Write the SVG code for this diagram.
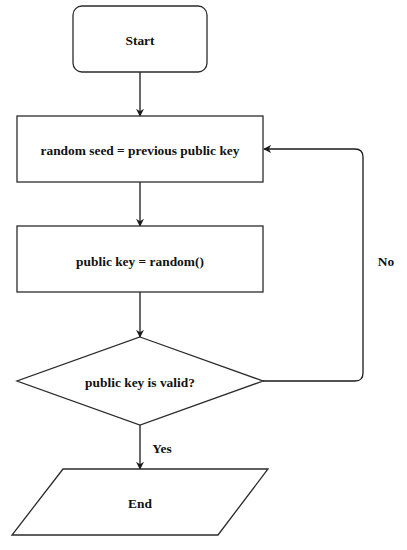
<svg xmlns="http://www.w3.org/2000/svg" width="407" height="550" viewBox="0 0 407 550">
<defs>
<style>
.s{fill:#fff;stroke:#2b2b2b;stroke-width:1.3}
.c{fill:none;stroke:#1a1a1a;stroke-width:1.3}
text{font-family:"Liberation Serif","Times New Roman",serif;font-weight:bold;font-size:13.4px;fill:#111;text-anchor:middle;dominant-baseline:central}
</style>
<marker id="ah" viewBox="0 0 10 10" refX="9" refY="5" markerWidth="8" markerHeight="8" markerUnits="userSpaceOnUse" orient="auto">
<path d="M0,0 L10,5 L0,10 L3,5 Z" fill="#1a1a1a"/>
</marker>
</defs>
<rect width="407" height="550" fill="#fff"/>
<g id="connectors">
<line class="c" x1="140" y1="72" x2="140" y2="116" marker-end="url(#ah)"/>
<line class="c" x1="140" y1="182" x2="140" y2="226" marker-end="url(#ah)"/>
<line class="c" x1="140" y1="292" x2="140" y2="337" marker-end="url(#ah)"/>
<line class="c" x1="140" y1="425" x2="140" y2="469" marker-end="url(#ah)"/>
<path class="c" d="M263,381 H355 Q363,381 363,373 V157 Q363,149 355,149 H264" marker-end="url(#ah)"/>
<text x="162" y="448">Yes</text>
<text x="386" y="261">No</text>
</g>
<g id="start">
<rect class="s" x="73" y="6" width="134" height="66" rx="9"/>
<text x="140" y="40">Start</text>
</g>
<g id="seed">
<rect class="s" x="17" y="116" width="246" height="66"/>
<text x="140" y="150">random seed = previous public key</text>
</g>
<g id="gen">
<rect class="s" x="17" y="226" width="246" height="66"/>
<text x="140" y="261">public key = random()</text>
</g>
<g id="check">
<polygon class="s" points="140,337 263,381 140,425 17,381"/>
<text x="140" y="382">public key is valid?</text>
</g>
<g id="end">
<polygon class="s" points="63,469 268,469 218,535 12,535"/>
<text x="140" y="503">End</text>
</g>
</svg>
